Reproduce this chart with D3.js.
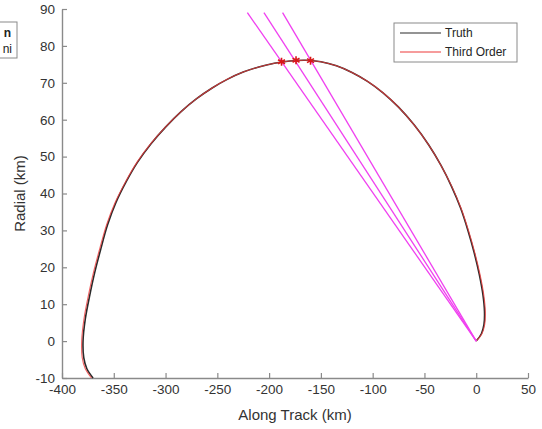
<!DOCTYPE html>
<html>
<head>
<meta charset="utf-8">
<script src="https://cdn.jsdelivr.net/npm/d3@7"></script>
<style>
  body { margin: 0; background: #fff; }
  text { font-family: "Liberation Sans", Arial, sans-serif; }
</style>
</head>
<body>
<div id="chart"></div>
<script>
// trajectory (km), from the start at bottom left to the origin
const truthX = [-370, -376, -379, -379.7, -377.5, -373.5, -368.5, -362.5, -356, -348, -338, -327, -314, -300, -285, -270, -255, -240, -225, -210, -195, -180, -165, -150, -135, -120, -105, -90, -75, -60, -46, -34, -24, -15, -8, -2, 3, 6.5, 8, 7.5, 5, 0];
const truthY = [-10, -7.5, -4.5, 0, 6, 12, 18.5, 25, 31.5, 37.5, 43.2, 48.5, 53.5, 58, 62.2, 65.7, 68.6, 71, 72.9, 74.3, 75.3, 75.9, 76.1, 75.7, 74.6, 72.8, 70.4, 67.3, 63.4, 58.6, 53.2, 47.6, 42, 36, 30, 24, 18, 12.5, 8, 4.5, 2, 0];
const thirdX = [-371.5, -377.5, -380.5, -381, -378.8, -374.8, -369.7, -363.6, -357, -348.8, -338.6, -327.5, -314.3, -300.2, -285, -270, -255, -240, -225, -210, -195, -180, -165, -150, -135, -120, -105, -90, -75, -60, -46, -34, -23.7, -14.6, -7.5, -1.4, 3.7, 7.3, 8.8, 8.2, 5.5, 0];
const thirdY = truthY;

// line-of-sight rays from the origin and the marked points
const rayEndX = [-221, -205, -187];
const rayEndY = [89, 89, 89];
const markX = [-188, -174, -160];
const markY = [75.7, 76.1, 76.0];

const xTicks = [-400, -350, -300, -250, -200, -150, -100, -50, 0, 50];
const yTicks = [-10, 0, 10, 20, 30, 40, 50, 60, 70, 80, 90];
const seriesNames = ["Truth", "Third Order"];
const seriesColors = ["#2a2a2a", "#ee3b3b"];

const width = 542;
const height = 429;

const x = d3.scaleLinear().domain([-400, 50]).range([62, 528]);
const y = d3.scaleLinear().domain([-10, 90]).range([378, 9]);

const svg = d3
  .select("#chart")
  .append("svg")
  .attr("width", width)
  .attr("height", height)
  .attr("viewBox", [0, 0, width, height]);

svg.append("rect").attr("width", width).attr("height", height).attr("fill", "#fff");

// axes, ticks pointing inward like matlab, plain hyphen minus
const fmt = (d) => String(d);
const gx = svg
  .append("g")
  .attr("transform", `translate(0,${y(-10)})`)
  .call(d3.axisBottom(x).tickValues(xTicks).tickFormat(fmt).tickSizeInner(-5).tickSizeOuter(0).tickPadding(6));
const gy = svg
  .append("g")
  .attr("transform", `translate(${x(-400)},0)`)
  .call(d3.axisLeft(y).tickValues(yTicks).tickFormat(fmt).tickSizeInner(-5).tickSizeOuter(0).tickPadding(7));

[gx, gy].forEach((g) => {
  g.select(".domain").attr("stroke", "#8a8a8a").attr("stroke-width", 1.4);
  g.selectAll(".tick line").attr("stroke", "#8a8a8a").attr("stroke-width", 1.2);
  g.selectAll(".tick text").attr("fill", "#333").attr("font-size", 13.5);
});

svg
  .append("text")
  .attr("x", (x(-400) + x(50)) / 2)
  .attr("y", 420)
  .attr("text-anchor", "middle")
  .attr("font-size", 15)
  .attr("fill", "#333")
  .text("Along Track (km)");

svg
  .append("text")
  .attr("transform", `translate(25,${(y(-10) + y(90)) / 2}) rotate(-90)`)
  .attr("text-anchor", "middle")
  .attr("font-size", 15)
  .attr("fill", "#333")
  .text("Radial (km)");

// curves
const line = d3
  .line()
  .x((d) => x(d[0]))
  .y((d) => y(d[1]))
  .curve(d3.curveCatmullRom.alpha(0.5));

const truth = d3.zip(truthX, truthY);
const third = d3.zip(thirdX, thirdY);

svg.append("path").datum(truth).attr("d", line)
  .attr("fill", "none").attr("stroke", seriesColors[0]).attr("stroke-width", 1.6);
svg.append("path").datum(third).attr("d", line)
  .attr("fill", "none").attr("stroke", seriesColors[1]).attr("stroke-width", 1.1).attr("stroke-opacity", 0.8);

// magenta rays
svg
  .append("g")
  .selectAll()
  .data(d3.zip(rayEndX, rayEndY))
  .join("line")
  .attr("x1", x(0))
  .attr("y1", y(0))
  .attr("x2", (d) => x(d[0]))
  .attr("y2", (d) => y(d[1]))
  .attr("stroke", "#f040f0")
  .attr("stroke-width", 1.3);

// red asterisks
svg
  .append("g")
  .selectAll()
  .data(d3.zip(markX, markY))
  .join("path")
  .attr("transform", (d) => `translate(${x(d[0])},${y(d[1])})`)
  .attr("d", d3.symbol(d3.symbolAsterisk, 45))
  .attr("fill", "none")
  .attr("stroke", "#d81818")
  .attr("stroke-width", 1.6);

// legend
const lg = svg.append("g").attr("transform", "translate(394,23)");
lg.append("rect").attr("width", 123).attr("height", 39)
  .attr("fill", "#fff").attr("stroke", "#8a8a8a").attr("stroke-width", 1);
seriesNames.forEach((name, i) => {
  lg.append("line").attr("x1", 6).attr("x2", 47).attr("y1", 10 + i * 19).attr("y2", 10 + i * 19)
    .attr("stroke", seriesColors[i]).attr("stroke-width", 1.2);
  lg.append("text").attr("x", 51).attr("y", 14 + i * 19)
    .attr("font-size", 12).attr("fill", "#262626").text(name);
});

// cut-off box at the left edge of the screenshot
const cut = svg.append("g");
cut.append("rect").attr("x", -10).attr("y", 22).attr("width", 27).attr("height", 36)
  .attr("fill", "#fff").attr("stroke", "#8a8a8a");
cut.append("text").attr("x", 11).attr("y", 37).attr("text-anchor", "end")
  .attr("font-size", 12).attr("font-weight", "bold").attr("fill", "#222").text("n");
cut.append("text").attr("x", 12).attr("y", 53).attr("text-anchor", "end")
  .attr("font-size", 12).attr("fill", "#222").text("ni");
</script>
</body>
</html>
